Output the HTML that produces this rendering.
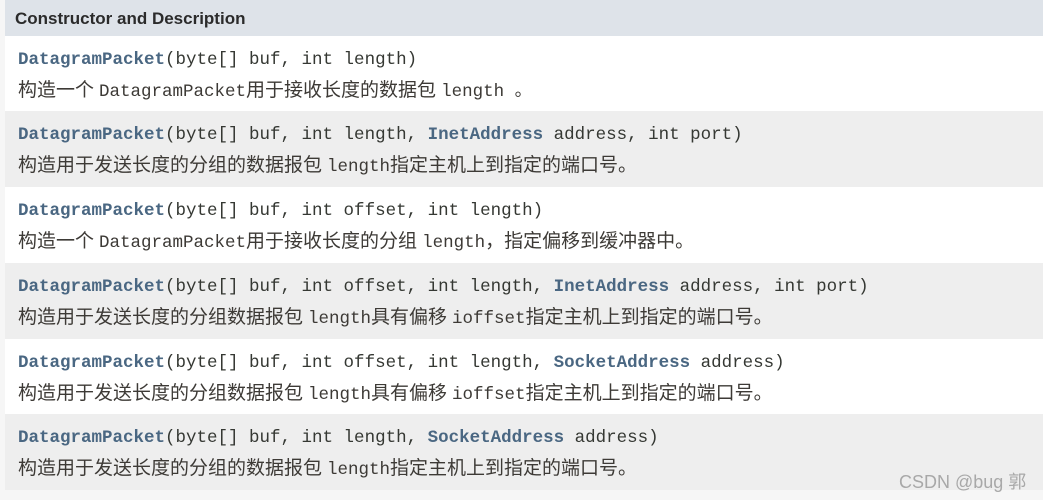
<!DOCTYPE html>
<html><head><meta charset="utf-8"><style>
*{margin:0;padding:0;box-sizing:border-box}
body{width:1043px;height:500px;background:#f6f6f6;position:relative;overflow:hidden;font-family:"Liberation Mono","Noto Sans CJK SC",monospace;color:#353833}
.hdr{position:absolute;left:5px;top:0;width:1038px;height:36px;background:#dee3e9;font-family:"Liberation Sans",sans-serif;font-weight:bold;font-size:17px;color:#2b2b2b;padding:9px 0 0 10px}
.row{position:absolute;left:5px;width:1038px;height:76px;padding-left:13px}
.w{background:#fff}.g{background:#eeeeee}
.l1{position:absolute;top:14px;font-size:17.5px;white-space:pre;line-height:20px}
.l2{position:absolute;top:43px;font-size:19px;white-space:pre;line-height:24px;color:#3d3a36}
.l2 i{font-style:normal;font-size:17.5px;margin-left:5px}
b{color:#4a6782}
.wm{position:absolute;left:899px;top:468px;font-family:"Liberation Sans","Noto Sans CJK SC",sans-serif;font-size:18px;color:#a8a8a8}
</style></head><body>
<div class="hdr">Constructor and Description</div>
<div class="row w" style="top:36px"><div class="l1"><b>DatagramPacket</b>(byte[] buf, int length)</div><div class="l2">构造一个<i>DatagramPacket</i>用于接收长度的数据包<i>length 。</i></div></div>
<div class="row g" style="top:111px"><div class="l1"><b>DatagramPacket</b>(byte[] buf, int length, <b>InetAddress</b> address, int port)</div><div class="l2">构造用于发送长度的分组的数据报包<i>length</i>指定主机上到指定的端口号。</div></div>
<div class="row w" style="top:187px"><div class="l1"><b>DatagramPacket</b>(byte[] buf, int offset, int length)</div><div class="l2">构造一个<i>DatagramPacket</i>用于接收长度的分组<i>length</i>，指定偏移到缓冲器中。</div></div>
<div class="row g" style="top:263px"><div class="l1"><b>DatagramPacket</b>(byte[] buf, int offset, int length, <b>InetAddress</b> address, int port)</div><div class="l2">构造用于发送长度的分组数据报包<i>length</i>具有偏移<i>ioffset</i>指定主机上到指定的端口号。</div></div>
<div class="row w" style="top:339px"><div class="l1"><b>DatagramPacket</b>(byte[] buf, int offset, int length, <b>SocketAddress</b> address)</div><div class="l2">构造用于发送长度的分组数据报包<i>length</i>具有偏移<i>ioffset</i>指定主机上到指定的端口号。</div></div>
<div class="row g" style="top:414px"><div class="l1"><b>DatagramPacket</b>(byte[] buf, int length, <b>SocketAddress</b> address)</div><div class="l2">构造用于发送长度的分组的数据报包<i>length</i>指定主机上到指定的端口号。</div></div>
<div class="wm">CSDN @bug 郭</div>
</body></html>
